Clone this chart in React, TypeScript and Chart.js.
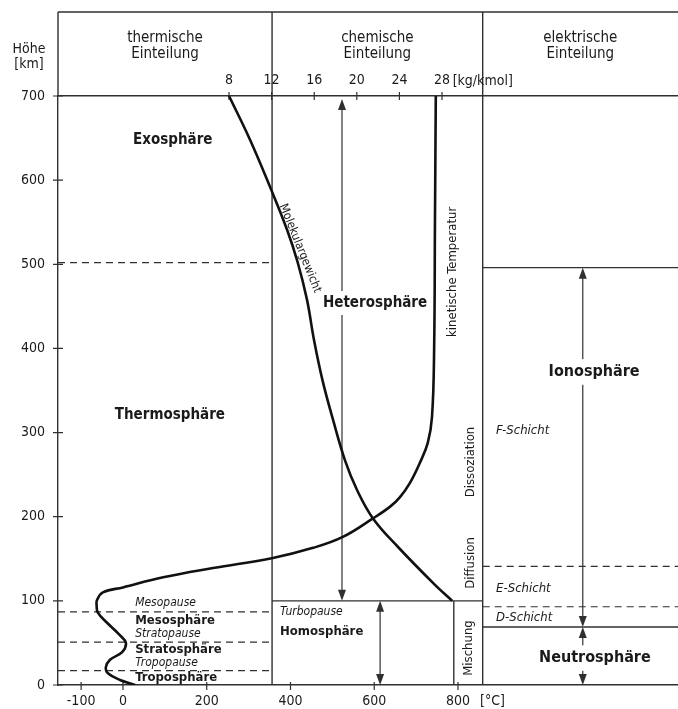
import { useEffect, useRef } from 'react';
import { Chart, registerables } from 'chart.js';

Chart.register(...registerables);

const FONT = "'Liberation Sans Narrow', 'DejaVu Sans Condensed', 'Open Sans', sans-serif";
const INK = '#1a1a1a';
const RULE = '#303030';

// kinetic temperature profile: altitude [km] / temperature [°C]
const tempAltitude = [700, 550, 398, 319, 288, 264, 240, 223, 212, 198, 176, 163, 151, 139, 128, 116, 110, 101, 95, 86, 74, 59, 50, 39, 30, 21, 14, 6, 0];
const tempValue = [747, 745, 743, 738, 728, 709, 685, 661, 638, 597, 525, 454, 358, 215, 96, 0, -48, -62, -63, -60, -38, -7, 7, -2, -31, -41, -36, -7, 29];

// mean molecular weight: altitude [km] / weight [kg/kmol]
const molAltitude = [700, 648, 592, 541, 503, 458, 410, 362, 315, 267, 232, 198, 164, 119, 100];
const molWeight = [8.0, 9.97, 11.85, 13.45, 14.43, 15.32, 15.98, 16.78, 17.77, 18.89, 20.01, 21.52, 23.87, 27.34, 28.96];

// axis ticks
const altitudeTicks = [0, 100, 200, 300, 400, 500, 600, 700];
const temperatureTicks = [-100, 0, 200, 400, 600, 800];
const molWeightTicks = [8, 12, 16, 20, 24, 28];

// layer boundaries [km]
const thermalBoundaries = [17, 51, 87, 502]; // Tropo-, Strato-, Mesopause, lower exosphere
const turbopause = 100;
const ionosphereTop = 496;
const neutrosphereTop = 69;
const ionLayerBoundaries = [93, 141]; // D/E and E/F layers

// column separators, expressed on the temperature axis
const thermalChemSplit = 356;
const chemElecSplit = 859;
const mixingColumn = 790;

// arrow positions, expressed on the temperature axis
const heteroArrowX = 523;
const homoArrowX = 614;
const ionArrowX = 1098;

// axis ranges
const T_MIN = -155.2;
const T_MAX = 1325.4;
const M_MIN = -8.06;
const M_MAX = 50.16;
const H_MIN = 0;
const H_MAX = 700;

const HEADER_TOP = 12;

type Label = {
  text: string;
  x: number;
  y: number;
  size: number;
  weight?: string;
  style?: string;
  align?: CanvasTextAlign;
  angle?: number;
  knockout?: boolean;
  axis?: 'x' | 'xM';
};

const labels: Label[] = [
  { text: 'Exosphäre', x: 119, y: 648, size: 15, weight: 'bold', align: 'center' },
  { text: 'Thermosphäre', x: 112, y: 321, size: 15, weight: 'bold', align: 'center' },
  { text: 'Mesopause', x: 29, y: 97.5, size: 12, style: 'italic' },
  { text: 'Mesosphäre', x: 29, y: 77, size: 13, weight: 'bold' },
  { text: 'Stratopause', x: 29, y: 60.6, size: 12, style: 'italic' },
  { text: 'Stratosphäre', x: 29, y: 41.6, size: 13, weight: 'bold' },
  { text: 'Tropopause', x: 29, y: 26, size: 12, style: 'italic' },
  { text: 'Troposphäre', x: 29, y: 8.3, size: 13, weight: 'bold' },
  { text: 'Turbopause', x: 375, y: 86.8, size: 12, style: 'italic' },
  { text: 'Homosphäre', x: 375, y: 63, size: 13, weight: 'bold' },
  { text: 'Heterosphäre', x: 602, y: 454, size: 15, weight: 'bold', align: 'center', knockout: true },
  { text: 'Ionosphäre', x: 1125, y: 372, size: 16, weight: 'bold', align: 'center', knockout: true },
  { text: 'Neutrosphäre', x: 1127, y: 32, size: 16, weight: 'bold', align: 'center', knockout: true },
  { text: 'F-Schicht', x: 891, y: 302, size: 13, style: 'italic' },
  { text: 'E-Schicht', x: 891, y: 115, size: 13, style: 'italic' },
  { text: 'D-Schicht', x: 891, y: 80, size: 13, style: 'italic' },
  { text: 'kinetische Temperatur', x: 786, y: 491, size: 13, align: 'center', angle: -90 },
  { text: 'Dissoziation', x: 829, y: 265, size: 13, align: 'center', angle: -90 },
  { text: 'Diffusion', x: 829, y: 145, size: 13, align: 'center', angle: -90 },
  { text: 'Mischung', x: 826, y: 44, size: 13, align: 'center', angle: -90 },
  { text: 'Molekulargewicht', x: 14.67, y: 519, size: 12, align: 'center', angle: 68.2, axis: 'xM' },
];

const font = (size: number, weight = 'normal', style = 'normal') =>
  `${style} ${weight} ${size}px ${FONT}`;

function drawArrow(ctx: CanvasRenderingContext2D, x: number, yTop: number, yBottom: number) {
  const head = 11;
  const half = 4;
  ctx.beginPath();
  ctx.moveTo(x, yTop + head - 1);
  ctx.lineTo(x, yBottom - head + 1);
  ctx.stroke();
  ctx.beginPath();
  ctx.moveTo(x, yTop);
  ctx.lineTo(x - half, yTop + head);
  ctx.lineTo(x + half, yTop + head);
  ctx.closePath();
  ctx.fill();
  ctx.beginPath();
  ctx.moveTo(x, yBottom);
  ctx.lineTo(x - half, yBottom - head);
  ctx.lineTo(x + half, yBottom - head);
  ctx.closePath();
  ctx.fill();
}

const atmospherePlugin = {
  id: 'atmosphereLayout',
  beforeDatasetsDraw(chart: Chart) {
    const { ctx, chartArea } = chart;
    const xs = chart.scales.x;
    const xm = chart.scales.xM;
    const ys = chart.scales.y;
    const { left, right, top, bottom } = chartArea;
    const px = (v: number) => xs.getPixelForValue(v);
    const py = (v: number) => ys.getPixelForValue(v);

    ctx.save();
    ctx.strokeStyle = RULE;
    ctx.fillStyle = RULE;
    ctx.lineWidth = 1.4;

    // header frame and column separators
    ctx.beginPath();
    ctx.moveTo(left, HEADER_TOP);
    ctx.lineTo(right, HEADER_TOP);
    ctx.moveTo(left, HEADER_TOP);
    ctx.lineTo(left, top);
    ctx.moveTo(px(thermalChemSplit), HEADER_TOP);
    ctx.lineTo(px(thermalChemSplit), bottom);
    ctx.moveTo(px(chemElecSplit), HEADER_TOP);
    ctx.lineTo(px(chemElecSplit), bottom);
    // turbopause and mixing column
    ctx.moveTo(px(thermalChemSplit), py(turbopause));
    ctx.lineTo(px(chemElecSplit), py(turbopause));
    ctx.moveTo(px(mixingColumn), py(turbopause));
    ctx.lineTo(px(mixingColumn), bottom);
    // ionosphere / neutrosphere limits
    ctx.moveTo(px(chemElecSplit), py(ionosphereTop));
    ctx.lineTo(right, py(ionosphereTop));
    ctx.moveTo(px(chemElecSplit), py(neutrosphereTop));
    ctx.lineTo(right, py(neutrosphereTop));
    ctx.stroke();

    // tick marks crossing the axis lines
    ctx.lineWidth = 1.2;
    ctx.beginPath();
    ys.ticks.forEach((_t, i) => {
      const y = ys.getPixelForTick(i);
      ctx.moveTo(left - 5, y);
      ctx.lineTo(left + 5, y);
    });
    xs.ticks.forEach((_t, i) => {
      const x = xs.getPixelForTick(i);
      ctx.moveTo(x, bottom - 3);
      ctx.lineTo(x, bottom + 5);
    });
    xm.ticks.forEach((_t, i) => {
      const x = xm.getPixelForTick(i);
      ctx.moveTo(x, top - 4);
      ctx.lineTo(x, top + 4);
    });
    ctx.stroke();

    // dashed boundaries
    ctx.lineWidth = 1.2;
    ctx.setLineDash([7, 5]);
    ctx.beginPath();
    thermalBoundaries.forEach((h) => {
      ctx.moveTo(left, py(h));
      ctx.lineTo(px(thermalChemSplit), py(h));
    });
    ionLayerBoundaries.forEach((h) => {
      ctx.moveTo(px(chemElecSplit), py(h));
      ctx.lineTo(right, py(h));
    });
    ctx.stroke();
    ctx.setLineDash([]);

    // double arrows
    ctx.lineWidth = 1.2;
    drawArrow(ctx, px(heteroArrowX), py(H_MAX) + 3, py(turbopause));
    drawArrow(ctx, px(homoArrowX), py(turbopause), bottom);
    drawArrow(ctx, px(ionArrowX), py(ionosphereTop), py(neutrosphereTop));
    drawArrow(ctx, px(ionArrowX), py(neutrosphereTop), bottom);
    ctx.restore();
  },
  afterDatasetsDraw(chart: Chart) {
    const { ctx, chartArea } = chart;
    const xs = chart.scales.x;
    const xm = chart.scales.xM;
    const ys = chart.scales.y;
    const { left, right, bottom } = chartArea;

    ctx.save();
    ctx.fillStyle = INK;
    ctx.textBaseline = 'middle';

    labels.forEach((l) => {
      const scale = l.axis === 'xM' ? xm : xs;
      const x = scale.getPixelForValue(l.x);
      const y = ys.getPixelForValue(l.y);
      ctx.font = font(l.size, l.weight, l.style);
      ctx.textAlign = l.align ?? 'left';
      ctx.save();
      ctx.translate(x, y);
      if (l.angle) ctx.rotate((l.angle * Math.PI) / 180);
      if (l.knockout) {
        const w = ctx.measureText(l.text).width;
        const x0 = ctx.textAlign === 'center' ? -w / 2 : 0;
        ctx.fillStyle = '#ffffff';
        ctx.fillRect(x0 - 4, -l.size * 0.8, w + 8, l.size * 1.6);
        ctx.fillStyle = INK;
      }
      ctx.fillText(l.text, 0, 0);
      ctx.restore();
    });

    // column headings
    const c1 = xs.getPixelForValue(thermalChemSplit);
    const c2 = xs.getPixelForValue(chemElecSplit);
    ctx.textAlign = 'center';
    ctx.textBaseline = 'alphabetic';
    ctx.font = font(15);
    const headings: [string, number][] = [
      ['thermische', (left + c1) / 2],
      ['chemische', (c1 + c2) / 2],
      ['elektrische', (c2 + right) / 2],
    ];
    headings.forEach(([t, x]) => {
      ctx.fillText(t, x, 42);
      ctx.fillText('Einteilung', x, 58);
    });
    ctx.font = font(14);
    ctx.fillText('Höhe', 29, 53);
    ctx.fillText('[km]', 29, 68);

    // units next to the axes
    ctx.textAlign = 'left';
    ctx.textBaseline = 'middle';
    ctx.font = font(14);
    ctx.fillText('[kg/kmol]', xm.getPixelForValue(29.0), 81);
    ctx.fillText('[°C]', xs.getPixelForValue(852.6), bottom + 16);
    ctx.restore();
  },
};

export default function App() {
  const canvasRef = useRef<HTMLCanvasElement | null>(null);

  useEffect(() => {
    document.body.style.margin = '0';
    const canvas = canvasRef.current;
    if (!canvas) return;

    const tickFont = { family: FONT, size: 14 };
    const chart = new Chart(canvas, {
      type: 'scatter',
      data: {
        datasets: [
          {
            label: 'kinetische Temperatur',
            data: tempAltitude.map((h, i) => ({ x: tempValue[i], y: h })),
            xAxisID: 'x',
            yAxisID: 'y',
            showLine: true,
            borderColor: '#111111',
            borderWidth: 2.6,
            tension: 0.4,
            pointRadius: 0,
          },
          {
            label: 'Molekulargewicht',
            data: molAltitude.map((h, i) => ({ x: molWeight[i], y: h })),
            xAxisID: 'xM',
            yAxisID: 'y',
            showLine: true,
            borderColor: '#111111',
            borderWidth: 2.6,
            tension: 0.4,
            pointRadius: 0,
          },
        ],
      },
      options: {
        animation: false,
        responsive: false,
        maintainAspectRatio: false,
        layout: { padding: 0 },
        plugins: { legend: { display: false }, tooltip: { enabled: false } },
        scales: {
          x: {
            type: 'linear',
            position: 'bottom',
            min: T_MIN,
            max: T_MAX,
            afterBuildTicks: (s: any) => {
              s.ticks = temperatureTicks.map((v) => ({ value: v }));
            },
            afterFit: (s: any) => {
              s.height = 24;
            },
            grid: { display: false, drawTicks: false, tickLength: 0 },
            border: { display: true, color: RULE, width: 1.4 },
            ticks: { font: tickFont, color: INK, padding: 8, maxRotation: 0, autoSkip: false },
          },
          xM: {
            type: 'linear',
            position: 'top',
            min: M_MIN,
            max: M_MAX,
            afterBuildTicks: (s: any) => {
              s.ticks = molWeightTicks.map((v) => ({ value: v }));
            },
            afterFit: (s: any) => {
              s.height = 96;
            },
            grid: { display: false, drawTicks: false, tickLength: 0 },
            border: { display: true, color: RULE, width: 1.4 },
            ticks: { font: tickFont, color: INK, padding: 7, maxRotation: 0, autoSkip: false },
          },
          y: {
            type: 'linear',
            position: 'left',
            min: H_MIN,
            max: H_MAX,
            afterBuildTicks: (s: any) => {
              s.ticks = altitudeTicks.map((v) => ({ value: v }));
            },
            afterFit: (s: any) => {
              s.width = 58;
            },
            grid: { display: false, drawTicks: false, tickLength: 0 },
            border: { display: true, color: RULE, width: 1.4 },
            ticks: { font: tickFont, color: INK, padding: 13, autoSkip: false },
          },
        },
      },
      plugins: [atmospherePlugin],
    });

    return () => chart.destroy();
  }, []);

  return <canvas ref={canvasRef} width={678} height={709} style={{ display: 'block' }} />;
}
